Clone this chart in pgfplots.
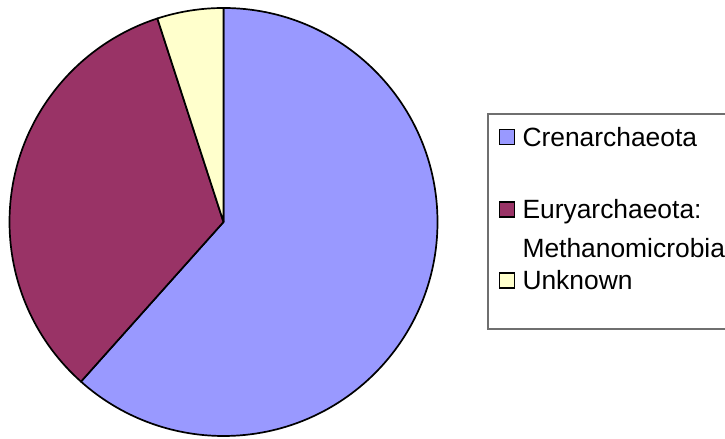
\documentclass[border=0pt]{standalone}
\usepackage{pgfplots}
\pgfplotsset{compat=1.18}
\usepackage{pgfplotstable}
\usepackage{fontspec}
\setmainfont{Liberation Sans}
\definecolor{cren}{HTML}{9999FF}
\definecolor{eury}{HTML}{993366}
\definecolor{unkn}{HTML}{FFFFCC}
\definecolor{boxgray}{HTML}{6F6F6F}
\pgfplotstableread{
label value
Crenarchaeota 61.6
Euryarchaeota 33.4
Unknown 5.0
}\piedata
\begin{document}
\begin{tikzpicture}[x=1bp,y=1bp]
\path[use as bounding box] (0,0) rectangle (725,439);
\pgfplotstablegetelem{0}{value}\of\piedata \let\va\pgfplotsretval
\pgfplotstablegetelem{1}{value}\of\piedata \let\vb\pgfplotsretval
\pgfplotstablegetelem{2}{value}\of\piedata \let\vc\pgfplotsretval
\pgfmathsetmacro\aS{90}
\pgfmathsetmacro\aA{90-3.6*\va}
\pgfmathsetmacro\aB{90-3.6*(\va+\vb)}
\pgfmathsetmacro\aC{90-3.6*(\va+\vb+\vc)}
\begin{axis}[
  scale only axis, width=428bp, height=428bp,
  xmin=-1, xmax=1, ymin=-1, ymax=1,
  hide axis, clip=false,
  at={(223.5bp,217bp)}, anchor=center,
]
\filldraw[fill=cren, draw=black, line width=1.7bp, line join=round]
  (axis cs:0,0) -- ++(\aS:214bp) arc[start angle=\aS, end angle=\aA, radius=214bp] -- cycle;
\filldraw[fill=eury, draw=black, line width=1.7bp, line join=round]
  (axis cs:0,0) -- ++(\aA:214bp) arc[start angle=\aA, end angle=\aB, radius=214bp] -- cycle;
\filldraw[fill=unkn, draw=black, line width=1.7bp, line join=round]
  (axis cs:0,0) -- ++(\aB:214bp) arc[start angle=\aB, end angle=\aC, radius=214bp] -- cycle;
\end{axis}
% legend
\draw[boxgray, line width=1.5bp] (740,439-114) -- (488,439-114) -- (488,439-329) -- (740,439-329);
\filldraw[fill=cren, draw=black, line width=1.2bp] (499.5,439-129.5) rectangle (514.5,439-144.5);
\filldraw[fill=eury, draw=black, line width=1.2bp] (499.5,439-202) rectangle (514.5,439-217);
\filldraw[fill=unkn, draw=black, line width=1.2bp] (499.5,439-273) rectangle (514.5,439-288);
\begin{scope}[every node/.style={inner sep=0pt, outer sep=0pt, anchor=base west, font=\fontsize{26.5}{39}\selectfont}]
\node at (522.5,439-146.5) {Crenarchaeota};
\node at (522.5,439-219) {Euryarchaeota:};
\node at (522.5,439-258) {Methanomicrobia};
\node at (522.5,439-290) {Unknown};
\end{scope}
\end{tikzpicture}
\end{document}
